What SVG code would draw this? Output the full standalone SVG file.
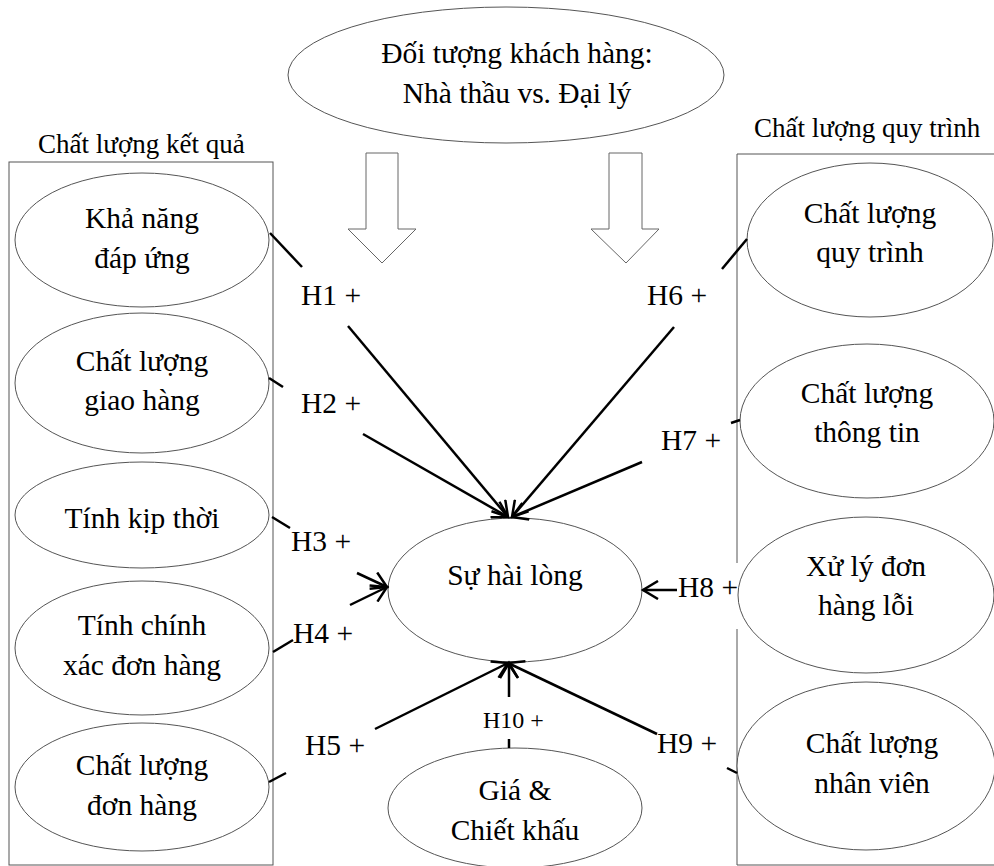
<svg xmlns="http://www.w3.org/2000/svg" width="994" height="866" viewBox="0 0 994 866">
<defs>
<style>
.bg{fill:#fff}
.node ellipse{fill:#fff;stroke:#555;stroke-width:1}
.frame{fill:none;stroke:#555;stroke-width:1}
.blk{fill:#fff;stroke:#666;stroke-width:1}
text{font-family:"Liberation Serif","Times New Roman",serif;fill:#000}
.t{font-size:29.5px;text-anchor:middle}
.sec{font-size:27px}
.h{font-size:29.5px}
.h10{font-size:24px}
.c line{stroke:#000;stroke-width:2.5;fill:none}
</style>
<marker id="ah" markerUnits="userSpaceOnUse" markerWidth="20" markerHeight="20" viewBox="0 0 20 20" refX="16" refY="10" orient="auto">
<path d="M1,1 L16,10 L1,19" fill="none" stroke="#000" stroke-width="2.5"/>
</marker>
</defs>
<rect class="bg" x="0" y="0" width="994" height="866"/>

<g id="frames">
<text class="sec" x="38" y="153">Chất lượng kết quả</text>
<rect class="frame" x="9" y="162" width="264" height="703"/>
<text class="sec" x="754" y="137">Chất lượng quy trình</text>
<path class="frame" d="M737,563 V154 H1000 M737,629 V865 H1000"/>
</g>

<g id="node-customer" class="node">
<ellipse cx="506" cy="75" rx="218" ry="68"/>
<text class="t" x="517" y="63">Đối tượng khách hàng:</text>
<text class="t" x="517" y="103">Nhà thầu vs. Đại lý</text>
</g>

<g id="block-arrows">
<path class="blk" d="M366,153 H398 V229 H416 L382,263 L348,229 H366 Z"/>
<path class="blk" d="M609,153 H642 V229 H659 L626,263 L591,229 H609 Z"/>
</g>

<g id="node-kha-nang" class="node">
<ellipse cx="142" cy="240" rx="127" ry="67"/>
<text class="t" x="142" y="228">Khả năng</text>
<text class="t" x="142" y="268">đáp ứng</text>
</g>
<g id="node-giao-hang" class="node">
<ellipse cx="142" cy="383" rx="127" ry="70"/>
<text class="t" x="142" y="371">Chất lượng</text>
<text class="t" x="142" y="410">giao hàng</text>
</g>
<g id="node-kip-thoi" class="node">
<ellipse cx="142" cy="515" rx="127" ry="53"/>
<text class="t" x="142" y="528">Tính kịp thời</text>
</g>
<g id="node-chinh-xac" class="node">
<ellipse cx="142" cy="648" rx="127" ry="67"/>
<text class="t" x="142" y="635">Tính chính</text>
<text class="t" x="142" y="675">xác đơn hàng</text>
</g>
<g id="node-don-hang" class="node">
<ellipse cx="142" cy="787" rx="127" ry="64"/>
<text class="t" x="142" y="775">Chất lượng</text>
<text class="t" x="142" y="815">đơn hàng</text>
</g>

<g id="node-quy-trinh" class="node">
<ellipse cx="870" cy="240" rx="123" ry="77"/>
<text class="t" x="870" y="223">Chất lượng</text>
<text class="t" x="870" y="262">quy trình</text>
</g>
<g id="node-thong-tin" class="node">
<ellipse cx="867" cy="421" rx="127" ry="77"/>
<text class="t" x="867" y="403">Chất lượng</text>
<text class="t" x="867" y="442">thông tin</text>
</g>
<g id="node-xu-ly" class="node">
<ellipse cx="866" cy="595" rx="128" ry="78"/>
<text class="t" x="866" y="576">Xử lý đơn</text>
<text class="t" x="866" y="615">hàng lỗi</text>
</g>
<g id="node-nhan-vien" class="node">
<ellipse cx="866" cy="766" rx="129" ry="84"/>
<text class="t" x="872" y="753">Chất lượng</text>
<text class="t" x="872" y="793">nhân viên</text>
</g>

<g id="node-hai-long" class="node">
<ellipse cx="515" cy="590" rx="127" ry="72"/>
<text class="t" x="515" y="585">Sự hài lòng</text>
</g>
<g id="node-gia" class="node">
<ellipse cx="515" cy="808" rx="127" ry="60"/>
<text class="t" x="515" y="800">Giá &amp;</text>
<text class="t" x="515" y="840">Chiết khấu</text>
</g>

<g id="connectors" class="c">
<line x1="270" y1="233" x2="302" y2="267"/>
<line x1="348" y1="326" x2="508" y2="517" marker-end="url(#ah)"/>
<line x1="269" y1="378" x2="283" y2="387"/>
<line x1="363" y1="434" x2="508" y2="517" marker-end="url(#ah)"/>
<line x1="272" y1="517" x2="290" y2="528"/>
<line x1="357" y1="573" x2="387" y2="587" marker-end="url(#ah)"/>
<line x1="273" y1="652" x2="293" y2="640"/>
<line x1="350" y1="605" x2="387" y2="587" marker-end="url(#ah)"/>
<line x1="269" y1="782" x2="286" y2="773"/>
<line x1="375" y1="729" x2="508" y2="663" marker-end="url(#ah)"/>
<line x1="747" y1="239" x2="722" y2="269"/>
<line x1="674" y1="327" x2="512" y2="517" marker-end="url(#ah)"/>
<line x1="731" y1="423" x2="740" y2="420"/>
<line x1="642" y1="462" x2="512" y2="517" marker-end="url(#ah)"/>
<line x1="677" y1="590" x2="643" y2="590" marker-end="url(#ah)"/>
<line x1="727" y1="768" x2="737" y2="773"/>
<line x1="657" y1="734" x2="508" y2="663" marker-end="url(#ah)"/>
<line x1="509" y1="697" x2="509" y2="663" marker-end="url(#ah)"/>
<line x1="509" y1="739" x2="509" y2="748"/>
</g>

<g id="labels">
<text class="h" x="301" y="305">H1 +</text>
<text class="h" x="301" y="413">H2 +</text>
<text class="h" x="291" y="551">H3 +</text>
<text class="h" x="293" y="643">H4 +</text>
<text class="h" x="305" y="755">H5 +</text>
<text class="h" x="647" y="305">H6 +</text>
<text class="h" x="661" y="450">H7 +</text>
<text class="h" x="678" y="597">H8 +</text>
<text class="h" x="657" y="753">H9 +</text>
<text class="h10" x="483" y="728">H10 +</text>
</g>
</svg>
